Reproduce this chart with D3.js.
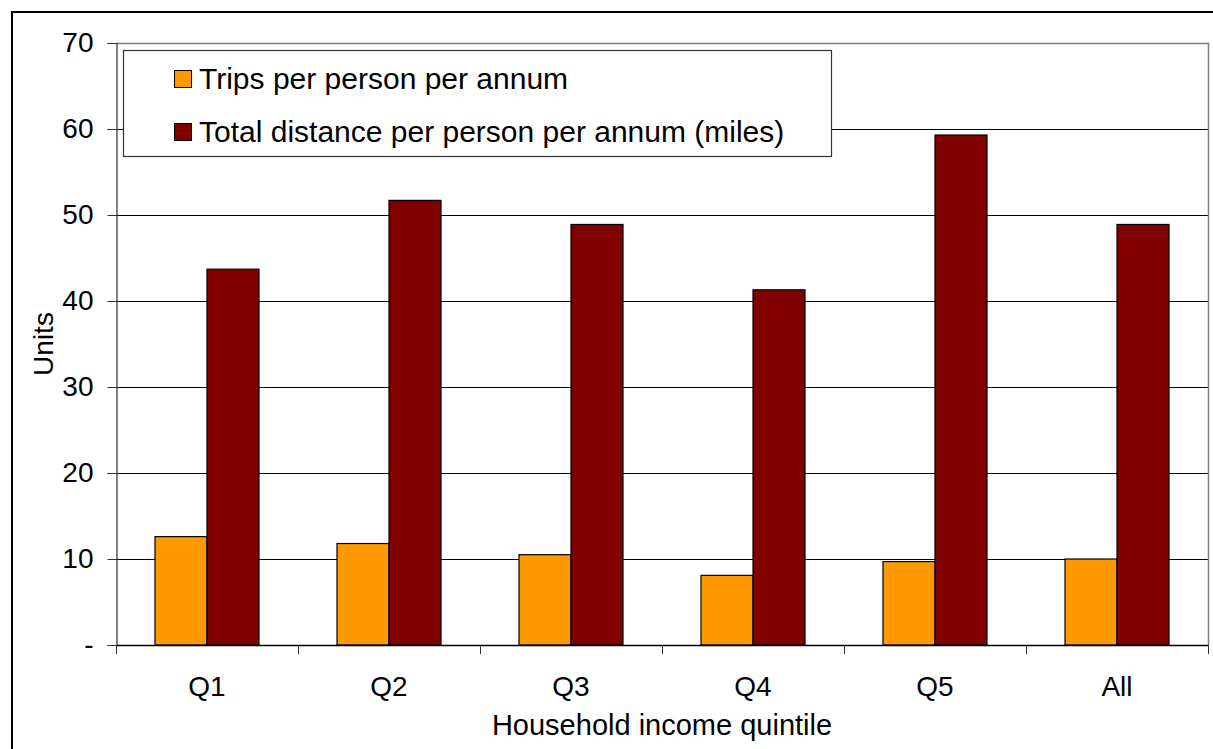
<!DOCTYPE html>
<html>
<head>
<meta charset="utf-8">
<script src="https://cdn.jsdelivr.net/npm/d3@7"></script>
<style>
  body { margin: 0; background: #fff; }
  text { font-family: "Liberation Sans", Arial, sans-serif; fill: #000; }
</style>
</head>
<body>
<div id="chart"></div>
<script>
// data
var categories = ["Q1", "Q2", "Q3", "Q4", "Q5", "All"];
var seriesNames = ["Trips per person per annum", "Total distance per person per annum (miles)"];
var trips = [12.6, 11.8, 10.5, 8.1, 9.7, 10.0];
var distance = [43.7, 51.7, 48.9, 41.3, 59.3, 48.9];
var yTicks = [0, 10, 20, 30, 40, 50, 60, 70];
var colors = ["#FF9900", "#800000"];

var width = 1213, height = 749;
var plot = {left: 116, right: 1208, top: 43, bottom: 645};

var svg = d3.select("#chart").append("svg")
    .attr("width", width)
    .attr("height", height);

svg.append("rect")
    .attr("width", width).attr("height", height)
    .attr("fill", "#fff");

// outer frame (runs off the right and bottom edges)
svg.append("rect")
    .attr("x", 12).attr("y", 12)
    .attr("width", 1220).attr("height", 760)
    .attr("fill", "none")
    .attr("stroke", "#000")
    .attr("stroke-width", 2);

var x0 = d3.scaleBand()
    .domain(categories)
    .range([plot.left, plot.right])
    .padding(0);

var x1 = d3.scaleBand()
    .domain([0, 1])
    .range([0, x0.bandwidth()])
    .paddingInner(0)
    .paddingOuter(0.75);

var y = d3.scaleLinear()
    .domain([0, 70])
    .range([plot.bottom, plot.top]);

// gridlines
svg.append("g")
    .selectAll("line")
    .data(yTicks.filter(function (d) {return d > 0 && d < 70;}))
    .enter().append("line")
    .attr("x1", plot.left).attr("x2", plot.right)
    .attr("y1", function (d) {return Math.round(y(d)) + 0.5;})
    .attr("y2", function (d) {return Math.round(y(d)) + 0.5;})
    .attr("stroke", "#000")
    .attr("stroke-width", 1);

// plot area top / right border
svg.append("path")
    .attr("d", "M" + plot.left + "," + (plot.top + 0.5) + "H" + (plot.right + 0.5) + "V" + plot.bottom)
    .attr("fill", "none")
    .attr("stroke", "#808080")
    .attr("stroke-width", 1.5);

// bars
var rows = categories.map(function (c, i) {return {cat: c, values: [trips[i], distance[i]]};});

var groups = svg.append("g")
    .selectAll("g")
    .data(rows)
    .enter().append("g")
    .attr("transform", function (d) {return "translate(" + x0(d.cat) + ",0)";});

groups.selectAll("rect")
    .data(function (d) {return d.values.map(function (v, k) {return {k: k, v: v};});})
    .enter().append("rect")
    .attr("x", function (d) {return x1(d.k);})
    .attr("y", function (d) {return y(d.v);})
    .attr("width", x1.bandwidth())
    .attr("height", function (d) {return y(0) - y(d.v);})
    .attr("fill", function (d) {return colors[d.k];})
    .attr("stroke", "#000")
    .attr("stroke-width", 1.2);

// y axis
var yAxis = d3.axisLeft(y)
    .tickValues(yTicks)
    .tickSize(9)
    .tickPadding(14)
    .tickFormat(function (d) {return d === 0 ? "-" : d;});

var gy = svg.append("g")
    .attr("transform", "translate(" + (plot.left + 0.5) + ",0)")
    .call(yAxis);
gy.select(".domain").attr("stroke", "#333").attr("stroke-width", 1.2);
gy.selectAll(".tick line").attr("stroke", "#333");
gy.selectAll("text")
    .style("font-family", "'Liberation Sans', Arial, sans-serif")
    .style("font-size", "28px")
    .attr("fill", "#000");

// x axis with ticks at category boundaries
var xAxisLine = svg.append("g");
xAxisLine.append("line")
    .attr("x1", plot.left).attr("x2", plot.right + 1)
    .attr("y1", plot.bottom + 0.5).attr("y2", plot.bottom + 0.5)
    .attr("stroke", "#000").attr("stroke-width", 1.5);

var boundaries = categories.map(function (c) {return x0(c);}).concat([x0.range()[1]]);
xAxisLine.selectAll(".xtick")
    .data(boundaries)
    .enter().append("line")
    .attr("class", "xtick")
    .attr("x1", function (d) {return Math.round(d) + 0.5;})
    .attr("x2", function (d) {return Math.round(d) + 0.5;})
    .attr("y1", plot.bottom).attr("y2", plot.bottom + 9)
    .attr("stroke", "#333");

xAxisLine.selectAll(".xlabel")
    .data(categories)
    .enter().append("text")
    .attr("class", "xlabel")
    .attr("x", function (d) {return x0(d) + x0.bandwidth() / 2;})
    .attr("y", 696)
    .attr("text-anchor", "middle")
    .style("font-size", "28px")
    .text(function (d) {return d;});

// axis titles
svg.append("text")
    .attr("x", (plot.left + plot.right) / 2)
    .attr("y", 735)
    .attr("text-anchor", "middle")
    .style("font-size", "29px")
    .text("Household income quintile");

svg.append("text")
    .attr("transform", "translate(53," + ((plot.top + plot.bottom) / 2) + ") rotate(-90)")
    .attr("text-anchor", "middle")
    .style("font-size", "28px")
    .text("Units");

// legend
var legend = svg.append("g");
legend.append("rect")
    .attr("x", 123.5).attr("y", 50.5)
    .attr("width", 708).attr("height", 106)
    .attr("fill", "#fff")
    .attr("stroke", "#333")
    .attr("stroke-width", 1.2);

var items = legend.selectAll(".item")
    .data(seriesNames)
    .enter().append("g")
    .attr("class", "item")
    .attr("transform", function (d, i) {return "translate(0," + (i * 53) + ")";});

items.append("rect")
    .attr("x", 174.5).attr("y", 70.5)
    .attr("width", 17).attr("height", 17)
    .attr("fill", function (d, i) {return colors[i];})
    .attr("stroke", "#000")
    .attr("stroke-width", 1);

items.append("text")
    .attr("x", 199)
    .attr("y", 89)
    .style("font-size", "30px")
    .text(function (d) {return d;});
</script>
</body>
</html>
